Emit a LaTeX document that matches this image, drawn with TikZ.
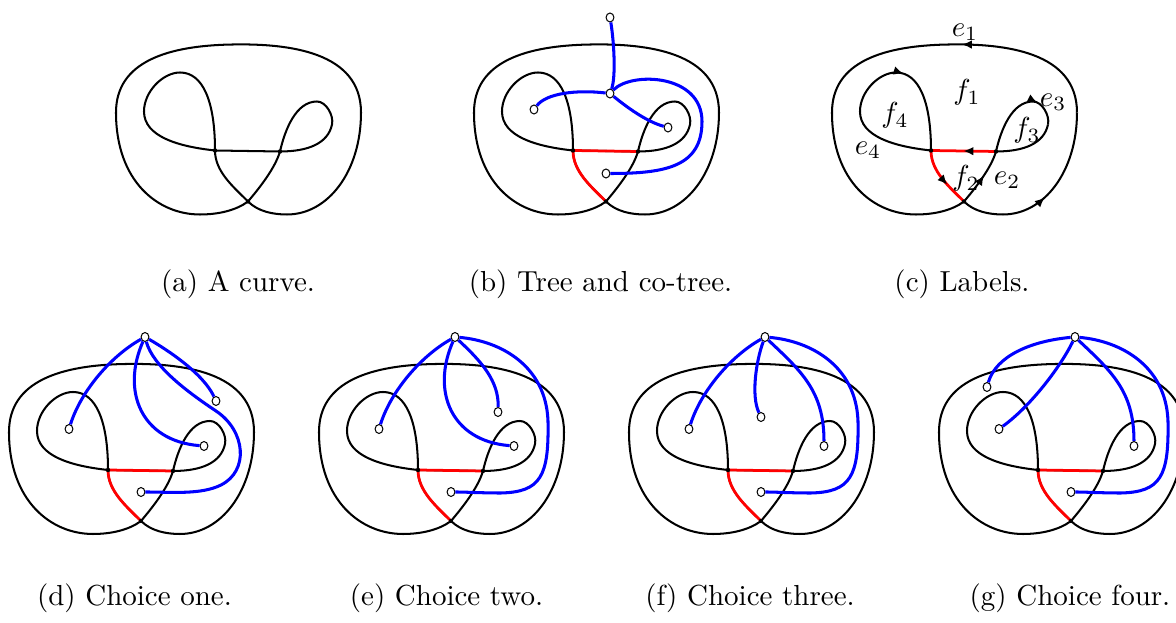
\documentclass[tikz,border=0pt]{standalone}
\usetikzlibrary{decorations.markings,arrows.meta,shapes.geometric}
\newcommand\drawknot[1]{%
  \coordinate (#1B) at (0,0);
  \coordinate (#1L) at (-33,-51);
  \coordinate (#1R) at (32,-50);
  \draw[curve] (#1B) .. controls (11,-13) and (27,-33) .. (#1R);
  \draw[curve] (#1R) .. controls (37,-72) and (48,-100) .. (69,-100) .. controls (78,-100) and (86,-86) .. (84,-77) .. controls (80,-58) and (60,-50) .. (#1R);
  \draw[curve] (#1R) -- (#1L);
  \draw[curve] (#1L) .. controls (-70,-55) and (-104,-65) .. (-104,-90) .. controls (-104,-110) and (-85,-129) .. (-68,-129) .. controls (-45,-129) and (-33,-100) .. (#1L);
  \draw[curve] (#1L) .. controls (-33,-30) and (-15,-15) .. (#1B);
  \draw[curve] (#1B) .. controls (10,10) and (25,13) .. (39,13) .. controls (80,13) and (113,-30) .. (113,-89) .. controls (113,-150) and (40,-158) .. (-15,-157) .. controls (-80,-156) and (-132,-140) .. (-132,-89) .. controls (-132,-20) and (-90,13) .. (-48,13) .. controls (-30,13) and (-12,9) .. (#1B);
}
\newcommand\redtree[1]{%
  \draw[treeedge] (#1R) -- (#1L);
  \draw[treeedge] (#1L) .. controls (-33,-30) and (-15,-15) .. (#1B);
}
\newcommand\knotdots[1]{%
  \node[vdot] (#1dL) at (#1L) {};
  \node[vdot] (#1dR) at (#1R) {};
  \node[vdot] (#1dB) at (#1B) {};
}
\begin{document}
\begin{tikzpicture}[x=0.345pt,y=-0.345pt,
  curve/.style={line width=0.7pt, black},
  treeedge/.style={line width=0.95pt, red},
  cotree/.style={line width=1.05pt, blue},
  vdot/.style={circle, fill=black, inner sep=0pt, minimum size=1.5pt},
  fnode/.style={ellipse, draw=black, fill=white, line width=0.35pt, inner sep=0pt, minimum width=2.7pt, minimum height=3.1pt},
  captext/.style={anchor=base, inner sep=0pt},
  lab/.style={inner sep=0pt},
  arr/.style={postaction={decorate}, decoration={markings, mark=at position #1 with {\arrow[color=black]{Latex[length=3.4pt,width=3pt]}}}},
]
\useasboundingbox (0,0) rectangle (1176,623);

% (a)
\begin{scope}[shift={(248,201.5)}]
  \drawknot{a}
  \knotdots{a}
\end{scope}

% (b)
\begin{scope}[shift={(606,201.5)}]
  \drawknot{b}
  \redtree{b}
  \node[fnode] (bT) at (4,-184) {};
  \node[fnode] (bH) at (4,-108) {};
  \node[fnode] (bf4) at (-72,-92) {};
  \node[fnode] (bf3) at (62,-74) {};
  \node[fnode] (bf2) at (0,-28) {};
  \draw[cotree] (bT) .. controls (8,-160) and (10,-125) .. (bH);
  \draw[cotree] (bH) .. controls (-30,-112) and (-60,-108) .. (bf4);
  \draw[cotree] (bH) .. controls (20,-95) and (40,-80) .. (bf3);
  \draw[cotree] (bH) .. controls (25,-130) and (96,-128) .. (96,-80) .. controls (96,-35) and (60,-28) .. (bf2);
  \knotdots{b}
\end{scope}

% (c)
\begin{scope}[shift={(964,201.5)}]
  \coordinate (cB) at (0,0);
  \coordinate (cL) at (-33,-51);
  \coordinate (cR) at (32,-50);
  \draw[curve, arr=0.55] (cB) .. controls (11,-13) and (27,-33) .. (cR);
  \draw[curve] (cR) .. controls (37,-72) and (48,-100) .. (69,-100);
  \draw[curve, arr=0.15] (69,-100) .. controls (78,-100) and (86,-86) .. (84,-77);
  \draw[curve] (84,-77) .. controls (80,-58) and (60,-50) .. (cR);
  \draw[curve] (cL) .. controls (-70,-55) and (-104,-65) .. (-104,-90) .. controls (-104,-110) and (-85,-129) .. (-68,-129);
  \draw[curve, arr=0.08] (-68,-129) .. controls (-45,-129) and (-33,-100) .. (cL);
  \draw[curve] (cB) .. controls (10,10) and (25,13) .. (39,13);
  \draw[curve, arr=0.33] (39,13) .. controls (80,13) and (113,-30) .. (113,-89);
  \draw[curve, arr=0.92] (113,-89) .. controls (113,-150) and (40,-158) .. (-15,-157);
  \draw[curve] (-15,-157) .. controls (-80,-156) and (-132,-140) .. (-132,-89) .. controls (-132,-20) and (-90,13) .. (-48,13) .. controls (-30,13) and (-12,9) .. (cB);
  \draw[treeedge, arr=0.5] (cR) -- (cL);
  \draw[treeedge, arr=0.62] (cL) .. controls (-33,-30) and (-15,-15) .. (cB);
  \node[lab] (ce1) at (1,-169) {$e_1$};
  \node[lab] (cf1) at (3,-109) {$f_1$};
  \node[lab] (cf4) at (-69,-86) {$f_4$};
  \node[lab] (ce3) at (89,-99) {$e_3$};
  \node[lab] (cf3) at (63,-71) {$f_3$};
  \node[lab] (ce4) at (-96,-51) {$e_4$};
  \node[lab] (cf2) at (2,-23) {$f_2$};
  \node[lab] (ce2) at (43,-21) {$e_2$};
  \knotdots{c}
\end{scope}

% (d)
\begin{scope}[shift={(141,521)}]
  \drawknot{d}
  \redtree{d}
  \node[fnode] (dH) at (4,-184) {};
  \node[fnode] (df4) at (-72,-92) {};
  \node[fnode] (df1) at (75,-120) {};
  \node[fnode] (df3) at (63,-75) {};
  \node[fnode] (df2) at (0,-29) {};
  \draw[cotree] (dH) .. controls (-30,-165) and (-60,-130) .. (df4);
  \draw[cotree] (dH) .. controls (25,-172) and (62,-148) .. (df1);
  \draw[cotree] (dH) .. controls (-20,-130) and (0,-80) .. (df3);
  \draw[cotree] (dH) .. controls (12,-155) and (45,-130) .. (75,-110) .. controls (105,-90) and (108,-50) .. (80,-36) .. controls (60,-26) and (30,-29) .. (df2);
  \knotdots{d}
\end{scope}

% (e)
\begin{scope}[shift={(451,521)}]
  \drawknot{e}
  \redtree{e}
  \node[fnode] (eH) at (4,-184) {};
  \node[fnode] (ef4) at (-72,-92) {};
  \node[fnode] (ef1) at (47,-109) {};
  \node[fnode] (ef3) at (63,-75) {};
  \node[fnode] (ef2) at (0,-29) {};
  \draw[cotree] (eH) .. controls (-30,-165) and (-60,-130) .. (ef4);
  \draw[cotree] (eH) .. controls (-20,-130) and (0,-80) .. (ef3);
  \draw[cotree] (eH) .. controls (30,-160) and (48,-140) .. (ef1);
  \draw[cotree] (eH) .. controls (50,-180) and (95,-155) .. (97,-100) .. controls (98,-45) and (90,-29) .. (50,-28) .. controls (30,-28) and (15,-29) .. (ef2);
  \knotdots{e}
\end{scope}

% (f)
\begin{scope}[shift={(761,521)}]
  \drawknot{f}
  \redtree{f}
  \node[fnode] (fH) at (4,-184) {};
  \node[fnode] (ff4) at (-72,-92) {};
  \node[fnode] (ff1) at (0,-104) {};
  \node[fnode] (ff3) at (63,-75) {};
  \node[fnode] (ff2) at (0,-29) {};
  \draw[cotree] (fH) .. controls (-30,-165) and (-60,-130) .. (ff4);
  \draw[cotree] (fH) .. controls (-5,-160) and (-10,-125) .. (ff1);
  \draw[cotree] (fH) .. controls (40,-150) and (63,-130) .. (ff3);
  \draw[cotree] (fH) .. controls (50,-180) and (95,-155) .. (97,-100) .. controls (98,-45) and (90,-29) .. (50,-28) .. controls (30,-28) and (15,-29) .. (ff2);
  \knotdots{f}
\end{scope}

% (g)
\begin{scope}[shift={(1071,521)}]
  \drawknot{g}
  \redtree{g}
  \node[fnode] (gH) at (4,-184) {};
  \node[fnode] (gf1) at (-84,-134) {};
  \node[fnode] (gf4) at (-72,-92) {};
  \node[fnode] (gf3) at (63,-75) {};
  \node[fnode] (gf2) at (0,-29) {};
  \draw[cotree] (gH) .. controls (-40,-180) and (-75,-165) .. (gf1);
  \draw[cotree] (gH) .. controls (-10,-155) and (-40,-115) .. (gf4);
  \draw[cotree] (gH) .. controls (40,-150) and (63,-130) .. (gf3);
  \draw[cotree] (gH) .. controls (50,-180) and (95,-155) .. (97,-100) .. controls (98,-45) and (90,-29) .. (50,-28) .. controls (30,-28) and (15,-29) .. (gf2);
  \knotdots{g}
\end{scope}

% captions
\node[captext] (capa) at (238,291.5) {(a) A curve.};
\node[captext] (capb) at (600.5,291.5) {(b) Tree and co-tree.};
\node[captext] (capc) at (962,291.5) {(c) Labels.};
\node[captext] (capd) at (134.5,606) {(d) Choice one.};
\node[captext] (cape) at (446.5,606) {(e) Choice two.};
\node[captext] (capf) at (750,606) {(f) Choice three.};
\node[captext] (capg) at (1070,606) {(g) Choice four.};
\end{tikzpicture}
\end{document}
